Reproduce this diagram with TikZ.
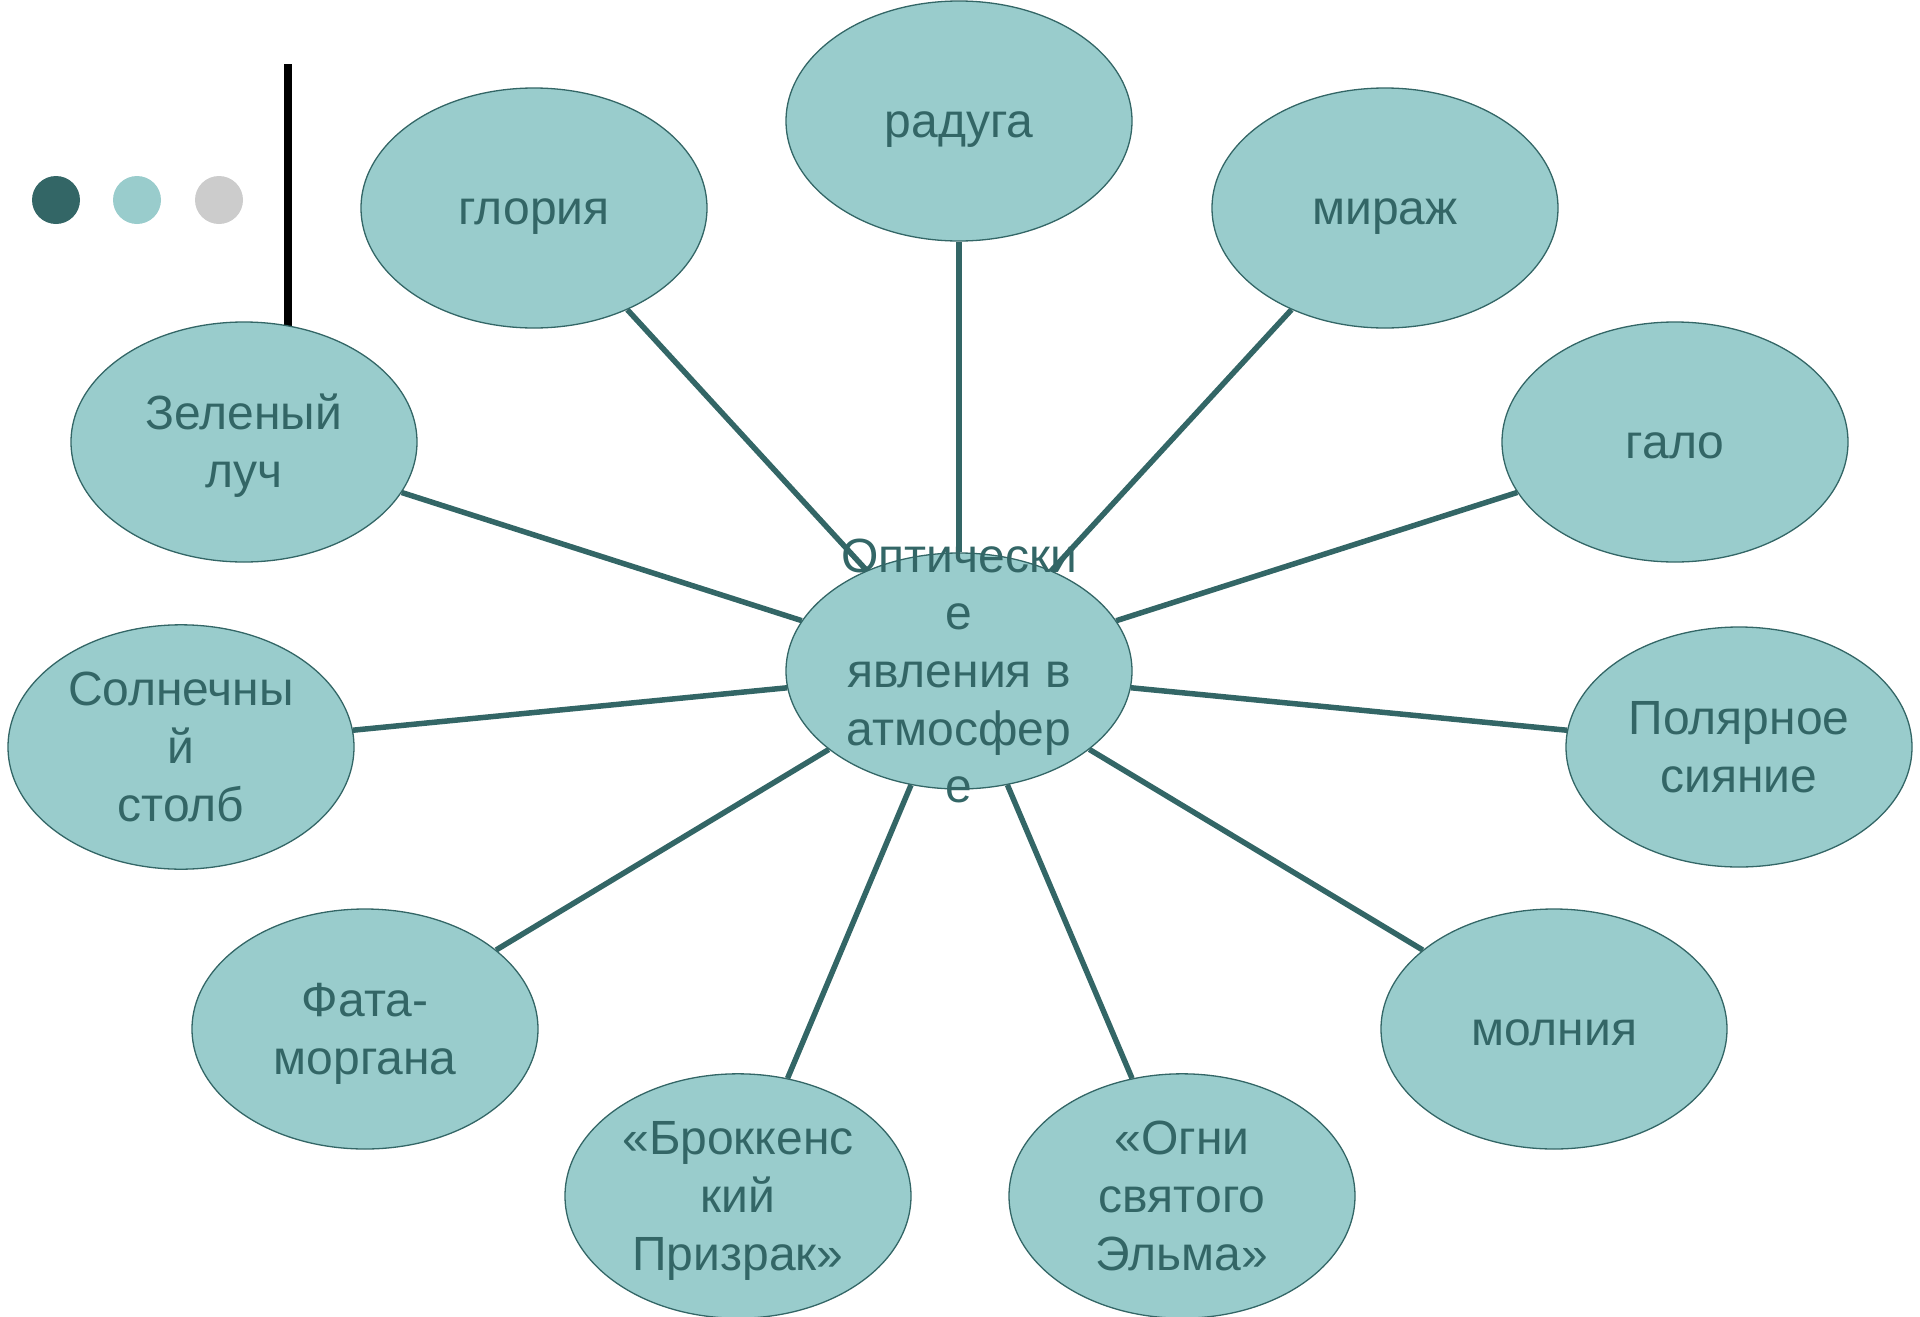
\documentclass[tikz,border=0pt]{standalone}
\usepackage{fontspec}
\setmainfont{Liberation Sans}
\usetikzlibrary{shapes.geometric,backgrounds}
\definecolor{dteal}{HTML}{336666}
\definecolor{lteal}{HTML}{99CCCC}
\definecolor{lgray}{HTML}{CCCCCC}
\newcommand\ms{\rule[-12.3pt]{0pt}{57.6pt}}
\begin{document}
\begin{tikzpicture}[x=1pt,y=-1pt,
  bub/.style={ellipse, draw=dteal, line width=1.3pt, fill=lteal, minimum width=346pt, minimum height=240pt,
    inner sep=0pt, text=dteal, align=center, font=\fontsize{48}{57.6}\selectfont},
  hub/.style={bub, minimum height=236pt},
  hubtext/.style={inner sep=0pt, text=dteal, align=center, font=\fontsize{48}{57.6}\selectfont},
  link/.style={draw=dteal, line width=5.5pt}]
\useasboundingbox (0,0) rectangle (1920,1317);
% decoration
\fill[dteal] (56,200) circle (24pt);
\fill[lteal] (137,200) circle (24pt);
\fill[lgray] (219,200) circle (24pt);
% nodes
\node[bub] (rad) at (959,121) {\ms радуга};
\node[bub] (glo) at (534,208) {\ms глория};
\node[bub] (mir) at (1385,208) {\ms мираж};
\node[bub] (zel) at (244,442) {\ms Зеленый\\\ms луч};
\node[bub] (gal) at (1675,442) {\ms гало};
\node[bub] (sol) at (181,747) {\ms Солнечны\\\ms й\\\ms столб};
\node[bub] (pol) at (1739,747) {\ms Полярное\\\ms сияние};
\node[bub] (fat) at (365,1029) {\ms Фата-\\\ms моргана};
\node[bub] (mol) at (1554,1029) {\ms молния};
\node[bub] (bro) at (738,1196) {\ms «Броккенс\\\ms кий\\\ms Призрак»};
\node[bub] (ogn) at (1182,1196) {\ms «Огни\\\ms святого\\\ms Эльма»};
\node[hub] (hub) at (959,671) {};
\node[hubtext] (hubt) at (hub.center) {\ms Оптически\\\ms е\\\ms явления в\\\ms атмосфер\\\ms е};
\begin{pgfonlayer}{background}
\draw[line width=8pt] (288,64) -- (288,340);
\draw[link] (hub) -- (rad);
\draw[link, shorten <=-10pt] (hub) -- (glo);
\draw[link, shorten <=-10pt] (hub) -- (mir);
\draw[link] (hub) -- (zel);
\draw[link] (hub) -- (gal);
\draw[link] (hub) -- (sol);
\draw[link] (hub) -- (pol);
\draw[link] (hub) -- (fat);
\draw[link] (hub) -- (mol);
\draw[link] (hub) -- (bro);
\draw[link] (hub) -- (ogn);
\end{pgfonlayer}
\end{tikzpicture}
\end{document}
